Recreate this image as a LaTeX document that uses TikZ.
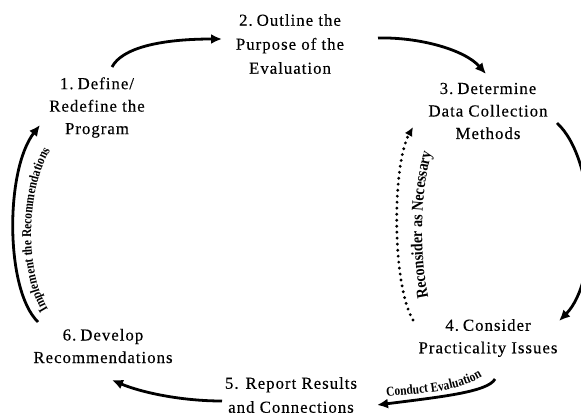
\documentclass[tikz,border=0pt]{standalone}
\usepackage{fontspec}
\setmainfont{Liberation Serif}
\newfontfamily\boxfont[LetterSpace=6,FakeBold=0.3]{Liberation Serif}
\newfontfamily\labfont[FakeStretch=0.85]{Liberation Serif}
\usetikzlibrary{arrows.meta,decorations.text}
\begin{document}
\begin{tikzpicture}[x=1pt,y=-1pt,
  stepnode/.style={font=\boxfont\fontsize{16.8}{22.5}\selectfont, align=center, inner sep=0pt},
  widestep/.style={stepnode, font=\boxfont\fontsize{16.8}{24}\selectfont},
  flow/.style={line width=2.8pt, -{Latex[length=11pt,width=10pt]}},
  backflow/.style={line width=3.2pt, line cap=round, dash pattern=on 0pt off 6pt, -{Latex[length=9pt,width=8.5pt]}},
  curvelabel/.style={decorate, decoration={text along path, text align=center, text={#1}}}
]
\useasboundingbox (0,0) rectangle (581,415);

% steps
\node[stepnode] (n1) at (97,107.5) {1.\hspace{4pt}Define/\\Redefine the\\Program};
\node[widestep] (n2) at (290,44) {2.\hspace{4pt}Outline the\\Purpose of the\\Evaluation};
\node[stepnode] (n3) at (488,111) {3.\hspace{4pt}Determine\\Data Collection\\Methods};
\node[stepnode] (n4) at (488,338) {4.\hspace{4pt}Consider\\Practicality Issues};
\node[widestep] (n5) at (291,395) {5. Report Results\\and Connections};
\node[stepnode] (n6) at (103,346) {6.\hspace{4pt}Develop\\Recommendations};

% connector end points
\coordinate (a12) at (112,67);   \coordinate (b12) at (222,39);
\coordinate (a23) at (378,38);   \coordinate (b23) at (486,74);
\coordinate (a34) at (557,123);  \coordinate (b34) at (559,321);
\coordinate (a45) at (495,379);  \coordinate (b45) at (377,405);
\coordinate (a56) at (222,401);  \coordinate (b56) at (112,380);
\coordinate (a61) at (38,322);   \coordinate (b61) at (40,125);
\coordinate (a43) at (413,320);  \coordinate (b43) at (413,127);

% connectors
\draw[flow] (a12) .. controls (122,48) and (160,39) .. (b12);
\draw[flow] (a23) .. controls (420,37) and (465,50) .. (b23);
\draw[flow] (a34) .. controls (597,160) and (600,280) .. (b34);
\draw[flow] (a45) .. controls (488,392) and (440,397) .. (b45);
\draw[flow] (a56) .. controls (180,401) and (140,392) .. (b56);
\draw[flow] (a61) .. controls (5,290) and (5,170) .. (b61);
\draw[backflow] (a43) .. controls (392,285) and (392,165) .. (b43);

% curved labels
\path[curvelabel={|\labfont\bfseries\fontsize{13.5}{14}\selectfont|Implement the Recommendations}]
  (52,315) .. controls (24,280) and (24,185) .. (54,145);
\path[curvelabel={|\labfont\bfseries\fontsize{16.5}{17}\selectfont|Reconsider as Necessary}]
  (430,305) .. controls (419,260) and (419,190) .. (434,145);
\path[curvelabel={|\labfont\bfseries\fontsize{13.5}{14}\selectfont|Conduct Evaluation}]
  (381,397) .. controls (425,393) and (460,392) .. (487,374);
\end{tikzpicture}
\end{document}
